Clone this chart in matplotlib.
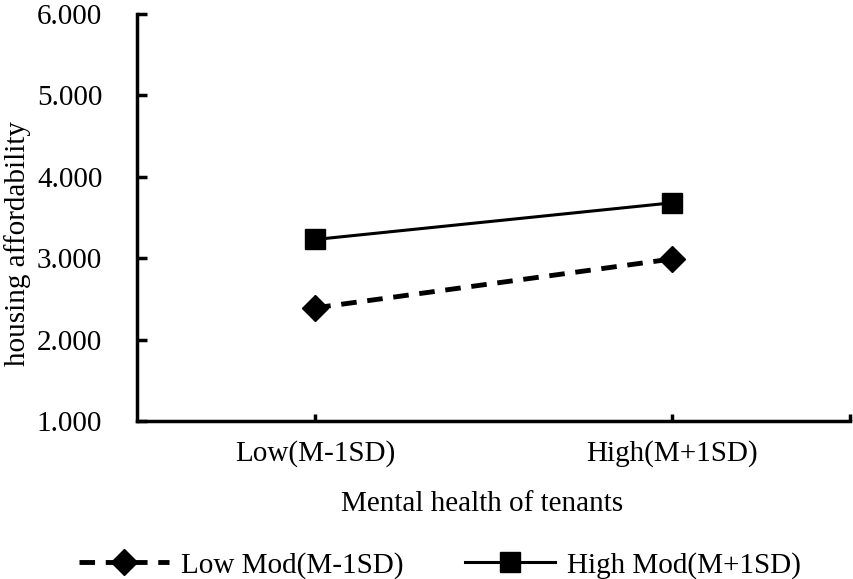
import numpy as np
import matplotlib.pyplot as plt
from matplotlib.ticker import FormatStrFormatter

plt.rcParams['font.family'] = ['Liberation Serif', 'DejaVu Serif']

# Donnees
categories = ['Low(M-1SD)', 'High(M+1SD)']
low_mod = [2.39, 2.99]
high_mod = [3.23, 3.68]
ticks_y = [1, 2, 3, 4, 5, 6]

fs = 21
x = np.arange(len(categories)) + 0.5

fig = plt.figure(figsize=(8.54, 5.79), dpi=100)
ax = fig.add_axes([0.1604, 0.2729, 0.8349, 0.7029])

ax.plot(x, low_mod, color='black', lw=3.5, ls=(0, (3.2, 2.2)), marker='D',
        markersize=13, label='Low Mod(M-1SD)')
ax.plot(x, high_mod, color='black', lw=2.2, marker='s',
        markersize=15, label='High Mod(M+1SD)')

ax.set_xlim(0, 2)
ax.set_ylim(1, 6)
ax.set_yticks(ticks_y)
ax.yaxis.set_major_formatter(FormatStrFormatter('%.3f'))
ax.set_xticks(x)
ax.set_xticklabels(categories)
ax.set_xticks([2.0], minor=True)

for s in ['top', 'right']:
    ax.spines[s].set_visible(False)
for s in ['left', 'bottom']:
    ax.spines[s].set_linewidth(2.5)

ax.tick_params(axis='y', direction='in', length=7, width=2.5, labelsize=fs, pad=25)
ax.tick_params(axis='x', which='both', direction='in', length=5, width=2.5, labelsize=fs, pad=14)

ax.set_xlabel('Mental health of tenants', fontsize=fs)
ax.set_ylabel('housing affordability', fontsize=fs)
ax.xaxis.set_label_coords(0.484, -0.172)
ax.yaxis.set_label_coords(-0.149, 0.435)

fig.legend(loc='lower center', bbox_to_anchor=(0.515, -0.045), ncol=2, frameon=False,
           fontsize=fs, handlelength=3.1, columnspacing=2.1, handletextpad=0.4)

fig.savefig('out.png', dpi=100)
